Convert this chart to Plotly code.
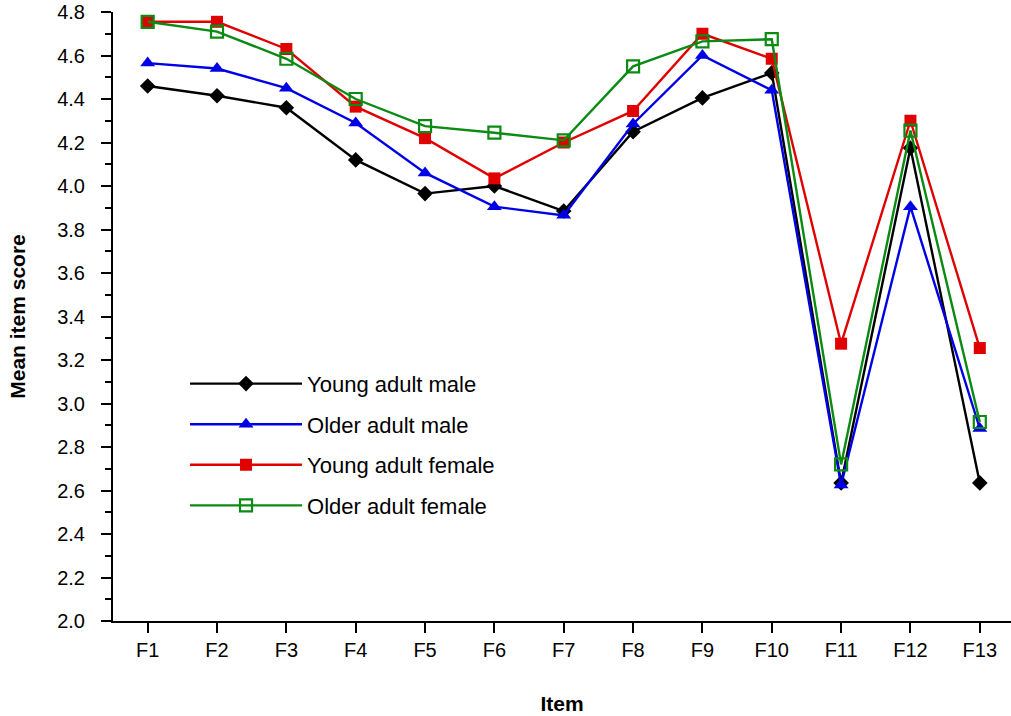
import plotly.graph_objects as go

items = ["F1", "F2", "F3", "F4", "F5", "F6", "F7", "F8", "F9", "F10", "F11", "F12", "F13"]

young_male = [4.46, 4.415, 4.36, 4.12, 3.965, 4.00, 3.885, 4.25, 4.405, 4.52, 2.635, 4.175, 2.635]
older_male = [4.565, 4.54, 4.45, 4.29, 4.06, 3.905, 3.865, 4.285, 4.60, 4.44, 2.625, 3.905, 2.885]
young_female = [4.755, 4.755, 4.63, 4.365, 4.22, 4.035, 4.20, 4.345, 4.70, 4.585, 3.275, 4.30, 3.255]
older_female = [4.755, 4.71, 4.585, 4.40, 4.275, 4.245, 4.21, 4.55, 4.665, 4.675, 2.72, 4.255, 2.915]

series_names = ["Young adult male", "Older adult male", "Young adult female", "Older adult female"]
colors = ["#000000", "#0000E6", "#E00000", "#0B8A14"]
symbols = ["diamond", "triangle-up", "square", "square-open"]
sizes = [12, 13, 12, 12]

FONT = "Liberation Sans, Arial, sans-serif"

fig = go.Figure()
for i, (name, vals) in enumerate(zip(series_names, [young_male, older_male, young_female, older_female])):
    fig.add_trace(go.Scatter(
        x=items, y=vals, name=name, mode="lines+markers",
        line=dict(color=colors[i], width=2.4),
        marker=dict(symbol=symbols[i], size=sizes[i], color=colors[i],
                    line=dict(color=colors[i], width=2.2 if symbols[i] == "square-open" else 0)),
        legendgroup=f"g{i}",
    ))

fig.update_layout(
    width=1011, height=716,
    margin=dict(l=113, r=0, t=12, b=95),
    paper_bgcolor="white", plot_bgcolor="white",
    font=dict(family=FONT, size=20, color="black"),
    showlegend=True,
    legend=dict(
        x=0.0802, y=0.424, xanchor="left", yanchor="top",
        bgcolor="rgba(0,0,0,0)", itemwidth=112, tracegroupgap=9,
        font=dict(size=22, family=FONT), itemclick=False,
    ),
    xaxis=dict(
        type="category", range=[-0.5, 12.45],
        showline=True, linecolor="black", linewidth=2,
        ticks="outside", ticklen=10, tickwidth=2, tickcolor="black",
        showgrid=False, zeroline=False,
        tickfont=dict(size=20),
        title=dict(text="<b>Item</b>", font=dict(size=21), standoff=36),
    ),
    yaxis=dict(
        range=[2.0, 4.8], tickmode="linear", tick0=2.0, dtick=0.2, tickformat=".1f",
        showline=True, linecolor="black", linewidth=2,
        ticks="outside", ticklen=10, tickwidth=2, tickcolor="black",
        ticklabelstandoff=12,
        minor=dict(ticks="outside", ticklen=6, tickwidth=2, tickcolor="black", dtick=0.1, showgrid=False),
        showgrid=False, zeroline=False,
        tickfont=dict(size=20),
        title=dict(text="<b>Mean item score</b>", font=dict(size=21), standoff=26),
    ),
)

fig.write_html("out.html")
